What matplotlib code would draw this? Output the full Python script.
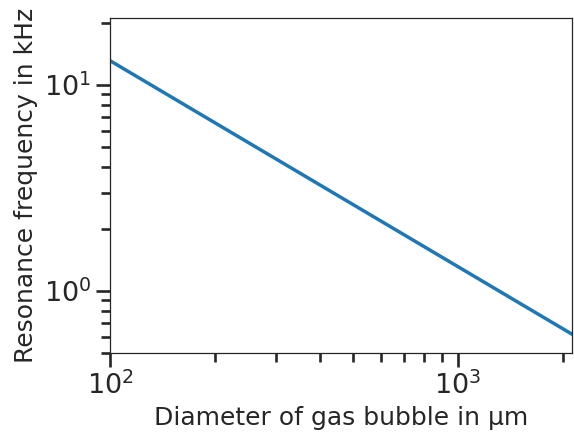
import numpy as np
import matplotlib.pyplot as plt
import seaborn as sns

# Bubble diameter (um) and resonance frequency (kHz)
diameter_um = [100, 2125]
frequency_khz = [13.1, 0.617]

sns.set_theme(context='talk', style='ticks')
plt.rcParams['font.family'] = ['DejaVu Sans']

fig = plt.figure(figsize=(5.74, 4.34), dpi=100)
ax = fig.add_axes([110/574, 1 - 353/434, 462/574, 335/434])

ax.plot(diameter_um, frequency_khz, color='#1f77b4', lw=2.5)
ax.set_xscale('log')
ax.set_yscale('log')
ax.set_xlim(100, 2125)
ax.set_ylim(0.5, 21.1)
ax.set_xlabel('Diameter of gas bubble in µm', fontsize=18)
ax.set_ylabel('Resonance frequency in kHz', fontsize=18)

for s in ax.spines.values():
    s.set_linewidth(0.9)
    s.set_color('.15')
ax.tick_params(which='major', length=10, width=1.9, labelsize=19.5, color='.15')
ax.tick_params(which='minor', length=6.5, width=1.9, color='.15')

fig.savefig('out.png', dpi=100)
